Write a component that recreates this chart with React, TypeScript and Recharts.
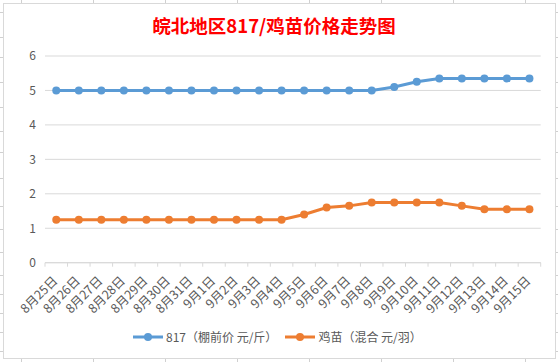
import React from "react";
import { LineChart, Line, XAxis, YAxis, CartesianGrid } from "recharts";

const dates = [
  "8月25日", "8月26日", "8月27日", "8月28日", "8月29日", "8月30日", "8月31日",
  "9月1日", "9月2日", "9月3日", "9月4日", "9月5日", "9月6日", "9月7日", "9月8日",
  "9月9日", "9月10日", "9月11日", "9月12日", "9月13日", "9月14日", "9月15日",
];
const price817 = [5, 5, 5, 5, 5, 5, 5, 5, 5, 5, 5, 5, 5, 5, 5, 5.1, 5.25, 5.35, 5.35, 5.35, 5.35, 5.35];
const chickPrice = [1.25, 1.25, 1.25, 1.25, 1.25, 1.25, 1.25, 1.25, 1.25, 1.25, 1.25, 1.4, 1.6, 1.65, 1.75, 1.75, 1.75, 1.75, 1.65, 1.55, 1.55, 1.55];
const yTicks = [0, 1, 2, 3, 4, 5, 6];
const title = "皖北地区817/鸡苗价格走势图";

const series = [
  { key: "p817", name: "817（棚前价 元/斤）", color: "#5B9BD5" },
  { key: "chick", name: "鸡苗（混合 元/羽）", color: "#ED7D31" },
];

const data = dates.map((d, i) => ({ i, date: d, p817: price817[i], chick: chickPrice[i] }));
const labelTicks = dates.map((_, i) => i);
const boundaryTicks = dates.map((_, i) => i - 0.5).concat([dates.length - 0.5]);
const domain: [number, number] = [-0.5, dates.length - 0.5];

const FONT = '"Noto Sans CJK SC", "Noto Sans", sans-serif';
const TEXT = "#595959";

const sheetRows = [12, 37, 57, 82, 107, 131, 152, 178, 206, 229, 252, 275, 294, 313, 332, 351];
const sheetCols = [21, 93, 165, 237, 309, 381, 453, 525];

const DateTick = (props: any) => {
  const { x, y, payload } = props;
  return (
    <g transform={`translate(${x + 2},${y + 19})`}>
      <text transform="rotate(-45)" textAnchor="end" fontSize={12.5} fill={TEXT} fontFamily={FONT}>
        {dates[payload.value]}
      </text>
    </g>
  );
};

const NoTick = () => <g />;

export default function App() {
  return (
    <div style={{ position: "absolute", left: 0, top: 0, width: 558, height: 362, background: "#fff", overflow: "hidden" }}>
      <svg width={558} height={362} style={{ position: "absolute", left: 0, top: 0 }}>
        {sheetRows.map((y) => (
          <line key={"r" + y} x1={0} x2={558} y1={y + 0.5} y2={y + 0.5} stroke="#D0D0D0" />
        ))}
        {sheetCols.map((x) => (
          <line key={"c" + x} x1={x + 0.5} x2={x + 0.5} y1={0} y2={362} stroke="#D0D0D0" />
        ))}
      </svg>
      <div
        style={{
          position: "absolute",
          left: 3,
          top: 3,
          width: 553,
          height: 356,
          border: "1px solid #D9D9D9",
          boxSizing: "border-box",
          background: "#fff",
        }}
      >
        <div
          style={{
            position: "absolute",
            left: -6,
            top: 11,
            width: 552,
            textAlign: "center",
            color: "#FF0000",
            fontWeight: 700,
            fontSize: 18.5,
            lineHeight: "20px",
            fontFamily: FONT,
            whiteSpace: "nowrap",
          }}
        >
          {title}
        </div>
        <LineChart
          width={551}
          height={354}
          data={data}
          margin={{ top: 52, right: 14.3, left: 0, bottom: 95.28 }}
        >
          <CartesianGrid vertical={false} stroke="#D9D9D9" />
          <XAxis
            xAxisId="b"
            dataKey="i"
            type="number"
            domain={domain}
            ticks={boundaryTicks}
            interval={0}
            height={0.01}
            tick={NoTick}
            tickSize={4}
            tickLine={{ stroke: "#D9D9D9" }}
            axisLine={{ stroke: "#D9D9D9" }}
            allowDataOverflow
          />
          <XAxis
            xAxisId={0}
            dataKey="i"
            type="number"
            domain={domain}
            ticks={labelTicks}
            interval={0}
            height={0.01}
            tick={DateTick}
            tickSize={0}
            tickMargin={0}
            tickLine={false}
            axisLine={false}
            allowDataOverflow
          />
          <YAxis
            width={41}
            domain={[0, 6]}
            ticks={yTicks}
            interval={0}
            axisLine={false}
            tickLine={false}
            tickSize={0}
            tickMargin={9}
            tick={{ fontSize: 12, fill: TEXT, fontFamily: FONT }}
          />
          {series.map((s) => (
            <Line
              key={s.key}
              xAxisId={0}
              dataKey={s.key}
              name={s.name}
              type="linear"
              stroke={s.color}
              strokeWidth={3}
              dot={{ r: 4, fill: s.color, stroke: "none" }}
              activeDot={false}
              isAnimationActive={false}
            />
          ))}
        </LineChart>
        <div
          style={{
            position: "absolute",
            left: 129,
            top: 325,
            height: 16,
            display: "flex",
            alignItems: "center",
            fontFamily: FONT,
            fontSize: 12,
            color: TEXT,
            whiteSpace: "nowrap",
          }}
        >
          {series.map((s, idx) => (
            <div key={s.key} style={{ display: "flex", alignItems: "center", marginLeft: idx === 0 ? 0 : 8 }}>
              <svg width={30} height={10} style={{ display: "block" }}>
                <line x1={0} x2={30} y1={5} y2={5} stroke={s.color} strokeWidth={3} />
                <circle cx={15} cy={5} r={4} fill={s.color} />
              </svg>
              <span style={{ marginLeft: 3, lineHeight: "16px" }}>{s.name}</span>
            </div>
          ))}
        </div>
      </div>
    </div>
  );
}
